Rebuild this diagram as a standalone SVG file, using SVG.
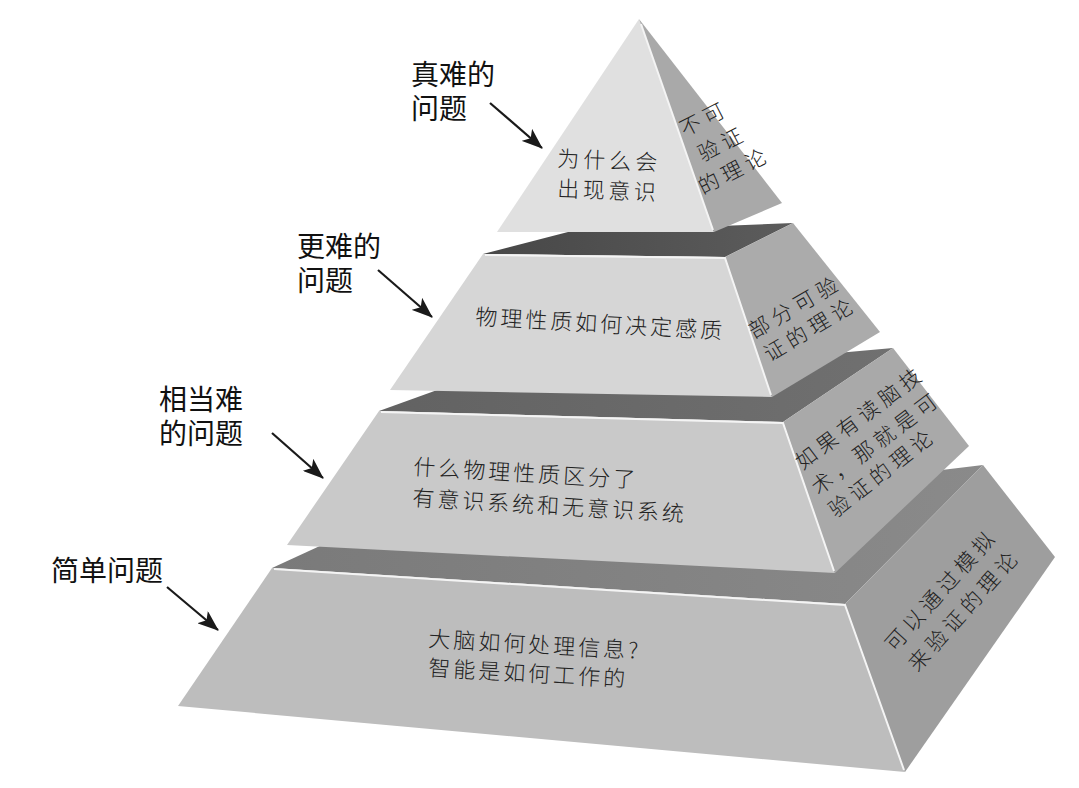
<svg xmlns="http://www.w3.org/2000/svg" width="1079" height="788" viewBox="0 0 1079 788">
<style>
.lbl{font-family:"Noto Sans CJK SC","Noto Sans",sans-serif;font-size:28px;fill:#111;}
.ft{font-family:"Noto Sans CJK SC","Noto Sans",sans-serif;font-size:22px;font-weight:300;fill:#222;letter-spacing:3px;}
.st{font-family:"Noto Sans CJK SC","Noto Sans",sans-serif;font-size:21px;font-weight:300;fill:#222;letter-spacing:5px;text-anchor:middle;}
.hl{stroke:#f4f4f4;stroke-width:2;fill:none;}
.arr{stroke:#1a1a1a;stroke-width:2.2;fill:none;marker-end:url(#ah);}
</style>
<defs>
<marker id="ah" markerUnits="userSpaceOnUse" markerWidth="22" markerHeight="16" refX="20" refY="8" orient="auto">
<path d="M0,0 L21,8 L0,16 L5,8 z" fill="#1a1a1a"/>
</marker>
<linearGradient id="d2" x1="0" y1="0" x2="1" y2="0">
<stop offset="0" stop-color="#474747"/><stop offset="1" stop-color="#5c5c5c"/>
</linearGradient>
<linearGradient id="d3" x1="0" y1="0" x2="1" y2="0">
<stop offset="0" stop-color="#626262"/><stop offset="1" stop-color="#707070"/>
</linearGradient>
<linearGradient id="d4" x1="0" y1="0" x2="1" y2="0">
<stop offset="0" stop-color="#7a7a7a"/><stop offset="1" stop-color="#8a8a8a"/>
</linearGradient>
</defs>
<rect width="1079" height="788" fill="#ffffff"/>

<g id="tier4">
<polygon points="272,568 322,545 983,465 845,604" fill="url(#d4)"/>
<polygon points="272,568 845,604 905,772 178,706" fill="#bdbdbd"/>
<polygon points="845,604 983,465 1055,557 905,772" fill="#9e9e9e"/>
<polyline class="hl" points="274,569 845,605 904,770"/>
<text class="ft" transform="translate(428,646.5) rotate(3.3)">大脑如何处理信息?</text>
<text class="ft" transform="translate(428,675.5) rotate(3.3)">智能是如何工作的</text>
<text class="st" transform="translate(941,589.5) rotate(-48)" y="8">可以通过模拟</text>
<text class="st" transform="translate(964,609.5) rotate(-48)" y="8">来验证的理论</text>
</g>

<g id="tier3">
<polygon points="379,411 440,389 893,348 783,422" fill="url(#d3)"/>
<polygon points="379,411 783,422 835,573 287,545" fill="#c9c9c9"/>
<polygon points="783,422 893,348 969,446 835,573" fill="#a9a9a9"/>
<polyline class="hl" points="381,412 783,423 834,571"/>
<text class="ft" transform="translate(413,474.5) rotate(3.4)">什么物理性质区分了</text>
<text class="ft" transform="translate(412,505.5) rotate(3.4)">有意识系统和无意识系统</text>
<text class="st" transform="translate(860,417) rotate(-37)" y="8">如果有读脑技</text>
<text class="st" transform="translate(876,442.5) rotate(-37)" y="8">术，那就是可</text>
<text class="st" transform="translate(882,472) rotate(-38)" y="8">验证的理论</text>
</g>

<g id="tier2">
<polygon points="483,254 568,232 793,223 725,257" fill="url(#d2)"/>
<polygon points="483,254 725,257 772,397 390,390" fill="#d6d6d6"/>
<polygon points="725,257 793,223 880,332 772,397" fill="#ababab"/>
<polyline class="hl" points="485,255 725,258 771,395"/>
<text class="ft" transform="translate(475,324.5) rotate(3.3)">物理性质如何决定感质</text>
<text class="st" transform="translate(795,306) rotate(-30)" y="8">部分可验</text>
<text class="st" transform="translate(810,328.5) rotate(-31)" y="8">证的理论</text>
</g>

<g id="tier1">
<polygon points="639,19 714,232 497,232" fill="#e0e0e0"/>
<polygon points="639,19 782,203 714,232" fill="#a9a9a9"/>
<line class="hl" x1="641" y1="24" x2="713" y2="230"/>
<text class="ft" style="letter-spacing:4px" transform="translate(557,166.5) rotate(2.2)">为什么会</text>
<text class="ft" style="letter-spacing:3.5px" transform="translate(557,196.5) rotate(2.3)">出现意识</text>
<text class="st" transform="translate(704,118) rotate(-27)" y="8">不可</text>
<text class="st" transform="translate(722,143) rotate(-27)" y="8">验证</text>
<text class="st" transform="translate(734,170) rotate(-27)" y="8">的理论</text>
</g>

<g id="labels">
<text class="lbl"><tspan x="411" y="85">真难的</tspan><tspan x="411" y="119">问题</tspan></text>
<text class="lbl"><tspan x="297" y="257">更难的</tspan><tspan x="297" y="291">问题</tspan></text>
<text class="lbl"><tspan x="159" y="410">相当难</tspan><tspan x="159" y="444">的问题</tspan></text>
<text class="lbl" x="51" y="581">简单问题</text>
</g>

<g id="connectors">
<line class="arr" x1="490" y1="103" x2="542" y2="148"/>
<line class="arr" x1="378" y1="270" x2="432" y2="317"/>
<line class="arr" x1="272" y1="433" x2="323" y2="478"/>
<line class="arr" x1="167" y1="587" x2="218" y2="630"/>
</g>
</svg>
